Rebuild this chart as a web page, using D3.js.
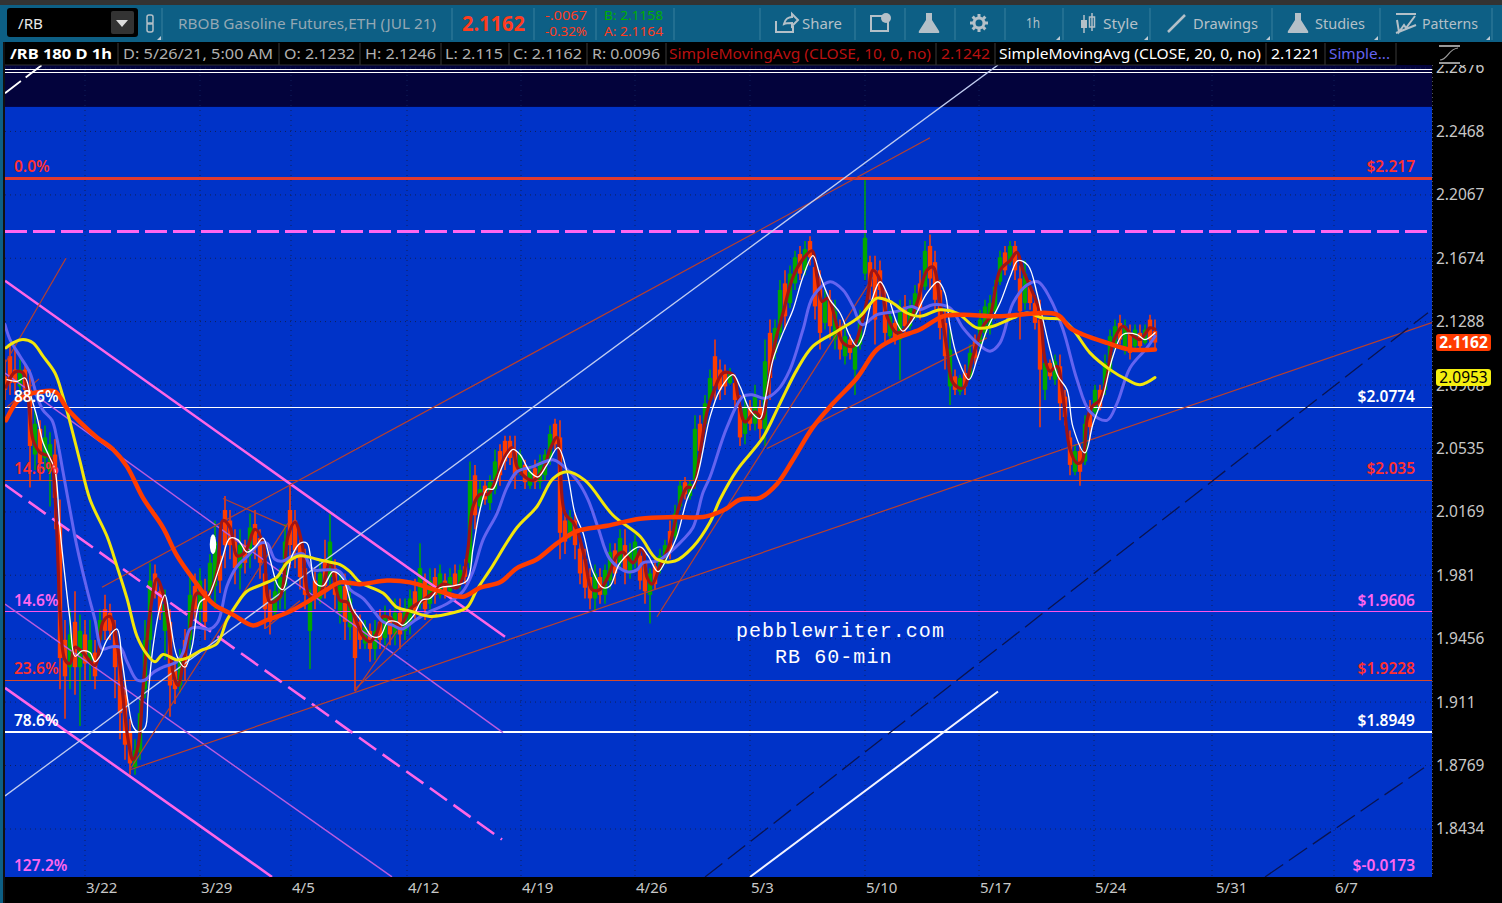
<!DOCTYPE html>
<html><head><meta charset="utf-8">
<script src="https://cdn.jsdelivr.net/npm/d3@7"></script>
<style>
html,body{margin:0;padding:0;background:#000;overflow:hidden}
svg{display:block}
text{font-family:"Noto Sans",sans-serif}
</style></head><body>
<script>
// ---------- axis values ----------
const priceTicks=[2.2876,2.2468,2.2067,2.1674,2.1288,2.0908,2.0535,2.0169,1.981,1.9456,1.911,1.8769,1.8434];
const dateLabels=["3/22","3/29","4/5","4/12","4/19","4/26","5/3","5/10","5/17","5/24","5/31","6/7"];
const dateBars=[85,200,291,407,521,635,750,865,979,1094,1212,1334];
// ---------- hourly price bars (sampled), rows of open, high, low, close ----------
const ohlcMarch=[
[2.096,2.106,2.082,2.088],[2.108,2.115,2.085,2.092],[2.100,2.112,2.085,2.092],[2.090,2.106,2.085,2.100],[2.100,2.104,2.082,2.088],[2.088,2.100,2.031,2.055],[2.050,2.076,2.041,2.068],[2.065,2.070,2.035,2.045],[2.048,2.067,2.041,2.060],[2.040,2.063,2.020,2.056],[2.050,2.059,2.007,2.025],[2.010,2.024,1.918,1.935],[1.945,1.956,1.902,1.925],[1.930,1.962,1.918,1.948],[1.955,1.972,1.915,1.930],[1.930,1.959,1.898,1.950],[1.948,1.956,1.923,1.932],[1.932,1.956,1.923,1.945],[1.938,1.945,1.918,1.925],[1.945,1.962,1.940,1.956],[1.962,1.970,1.945,1.950],[1.960,1.965,1.945,1.950],[1.950,1.956,1.913,1.930],[1.935,1.940,1.891,1.905],[1.915,1.923,1.880,1.888],[1.895,1.902,1.872,1.878],[1.876,1.891,1.872,1.885],[1.884,1.913,1.880,1.905],[1.918,1.956,1.913,1.945],[1.945,1.988,1.934,1.978],[1.982,1.987,1.968,1.972],[1.972,1.975,1.956,1.960],[1.950,1.973,1.934,1.965],[1.955,1.962,1.903,1.920],[1.928,1.934,1.910,1.918],[1.920,1.940,1.916,1.935],[1.945,1.951,1.923,1.930],[1.945,1.982,1.940,1.970],[1.975,1.982,1.956,1.962],[1.962,1.985,1.954,1.978],[1.972,1.979,1.945,1.955],[1.972,1.993,1.968,1.988],[1.975,2.012,1.962,2.000],[1.992,1.996,1.971,1.978],[2.018,2.026,1.985,1.998],[2.012,2.018,1.990,1.998],[2.000,2.007,1.976,1.985],[1.985,2.007,1.973,1.998],[1.998,2.001,1.982,1.988],[1.992,2.016,1.985,2.008],[2.010,2.018,1.990,1.998],[2.002,2.007,1.979,1.988],[1.982,1.987,1.951,1.962],[1.968,1.973,1.948,1.955],[1.960,1.979,1.956,1.972],[1.968,1.985,1.962,1.980],[1.975,2.010,1.962,2.000],[2.018,2.033,1.985,1.998],[2.012,2.018,1.985,1.995]];
const ohlcApril=[
[1.998,2.001,1.973,1.980],[1.985,1.996,1.962,1.970],[1.950,1.973,1.929,1.968],[1.978,1.985,1.962,1.968],[1.968,1.990,1.965,1.982],[1.990,2.001,1.968,1.975],[1.980,2.016,1.973,2.000],[1.985,1.990,1.962,1.970],[1.960,1.982,1.954,1.975],[1.975,1.982,1.945,1.955],[1.952,1.979,1.945,1.968],[1.958,1.962,1.917,1.935],[1.955,1.959,1.940,1.945],[1.943,1.956,1.940,1.952],[1.950,1.954,1.933,1.940],[1.940,1.956,1.934,1.950],[1.955,1.962,1.940,1.945],[1.946,1.964,1.942,1.958],[1.958,1.962,1.942,1.948],[1.948,1.968,1.942,1.960],[1.960,1.968,1.940,1.948],[1.950,1.968,1.945,1.962],[1.955,1.973,1.948,1.968],[1.972,1.979,1.956,1.960],[1.965,1.999,1.962,1.985],[1.978,1.982,1.956,1.962],[1.965,1.985,1.962,1.978],[1.980,1.985,1.965,1.970],[1.970,1.987,1.968,1.982],[1.978,1.982,1.968,1.972],[1.972,1.985,1.968,1.980],[1.982,1.987,1.973,1.975],[1.976,1.987,1.973,1.984],[1.986,1.990,1.976,1.980],[1.988,2.046,1.985,2.035],[2.038,2.044,2.007,2.015],[2.020,2.035,2.018,2.030],[2.032,2.035,2.021,2.024],[2.022,2.038,2.018,2.034],[2.030,2.053,2.027,2.046],[2.052,2.056,2.032,2.038],[2.058,2.061,2.041,2.046],[2.058,2.061,2.044,2.048],[2.052,2.061,2.030,2.038],[2.040,2.053,2.038,2.050],[2.044,2.047,2.030,2.034],[2.032,2.044,2.030,2.040],[2.042,2.047,2.030,2.034],[2.034,2.050,2.030,2.046],[2.038,2.053,2.035,2.050],[2.048,2.067,2.044,2.062],[2.068,2.071,2.053,2.056],[2.060,2.070,1.990,2.005],[2.012,2.018,1.993,2.000],[2.003,2.018,2.001,2.014],[2.012,2.016,1.990,1.998],[1.996,2.001,1.976,1.982],[1.990,1.996,1.968,1.974],[1.980,1.985,1.962,1.968],[1.968,1.987,1.961,1.982],[1.980,1.985,1.965,1.970],[1.970,1.987,1.965,1.984],[1.978,1.999,1.973,1.994],[1.995,1.999,1.976,1.982],[1.988,2.007,1.985,2.002],[1.998,2.007,1.976,1.984],[1.982,1.999,1.979,1.994],[1.988,2.004,1.985,2.000],[1.992,1.996,1.973,1.978],[1.988,1.993,1.965,1.972],[1.970,1.985,1.954,1.982],[1.986,1.990,1.973,1.976],[1.984,1.996,1.982,1.992],[1.988,2.001,1.987,1.998],[2.006,2.012,1.990,1.994],[2.003,2.021,2.001,2.016],[2.020,2.035,2.018,2.032],[2.034,2.037,2.024,2.027],[2.026,2.035,2.024,2.033]];
const ohlcMay=[
[2.035,2.073,2.030,2.065],[2.068,2.073,2.047,2.052],[2.068,2.085,2.065,2.080],[2.082,2.100,2.079,2.095],[2.108,2.118,2.082,2.090],[2.100,2.106,2.082,2.088],[2.098,2.103,2.085,2.090],[2.092,2.101,2.091,2.098],[2.092,2.097,2.076,2.082],[2.078,2.085,2.055,2.060],[2.062,2.085,2.056,2.078],[2.078,2.082,2.064,2.068],[2.068,2.091,2.064,2.084],[2.078,2.082,2.059,2.065],[2.065,2.118,2.055,2.105],[2.122,2.130,2.082,2.095],[2.110,2.130,2.106,2.125],[2.122,2.154,2.118,2.148],[2.152,2.160,2.124,2.132],[2.140,2.163,2.137,2.158],[2.152,2.172,2.148,2.168],[2.170,2.175,2.154,2.158],[2.160,2.178,2.157,2.173],[2.178,2.181,2.163,2.168],[2.162,2.169,2.130,2.138],[2.150,2.160,2.112,2.122],[2.128,2.148,2.124,2.142],[2.142,2.148,2.118,2.126],[2.118,2.142,2.112,2.135],[2.126,2.130,2.106,2.112],[2.108,2.124,2.103,2.120],[2.118,2.121,2.106,2.110],[2.100,2.118,2.085,2.115],[2.115,2.136,2.112,2.130],[2.158,2.216,2.154,2.180],[2.165,2.169,2.142,2.150],[2.160,2.169,2.115,2.130],[2.160,2.166,2.142,2.148],[2.142,2.148,2.115,2.122],[2.120,2.136,2.118,2.132],[2.128,2.130,2.115,2.118],[2.118,2.142,2.094,2.136],[2.138,2.145,2.121,2.126],[2.126,2.142,2.124,2.138],[2.134,2.151,2.130,2.146],[2.152,2.160,2.130,2.136],[2.150,2.178,2.148,2.172],[2.175,2.182,2.148,2.155],[2.165,2.172,2.136,2.142],[2.148,2.154,2.118,2.125],[2.128,2.136,2.100,2.108],[2.090,2.124,2.079,2.112],[2.096,2.100,2.085,2.088],[2.087,2.097,2.085,2.095],[2.098,2.103,2.085,2.090],[2.096,2.115,2.094,2.110],[2.118,2.121,2.103,2.107],[2.115,2.136,2.112,2.130],[2.122,2.142,2.118,2.138],[2.125,2.145,2.121,2.140],[2.135,2.154,2.130,2.150],[2.153,2.172,2.151,2.168],[2.171,2.175,2.157,2.160],[2.165,2.178,2.163,2.175],[2.175,2.178,2.154,2.160],[2.155,2.163,2.118,2.135],[2.140,2.166,2.136,2.158],[2.150,2.154,2.136,2.140],[2.140,2.145,2.124,2.128],[2.130,2.142,2.066,2.100],[2.088,2.109,2.082,2.104],[2.104,2.106,2.094,2.096],[2.094,2.109,2.091,2.105],[2.102,2.109,2.070,2.080],[2.084,2.088,2.067,2.072],[2.060,2.064,2.038,2.044],[2.040,2.056,2.038,2.052],[2.052,2.056,2.032,2.040],[2.046,2.073,2.044,2.068],[2.078,2.082,2.059,2.066],[2.075,2.091,2.073,2.088],[2.088,2.091,2.076,2.078],[2.088,2.109,2.085,2.104],[2.100,2.124,2.097,2.120],[2.114,2.130,2.112,2.126],[2.128,2.133,2.115,2.118],[2.112,2.130,2.109,2.126],[2.122,2.127,2.106,2.110],[2.114,2.127,2.112,2.124],[2.122,2.127,2.112,2.114],[2.116,2.127,2.115,2.124],[2.130,2.133,2.115,2.118],[2.1232,2.130,2.112,2.1162]];
// ---------- moving averages: bar numbers and values ----------
const sma10Bars=[6,15,23,28,33,40,50,55,58,60,65,70,75,83,95,103,110,117,123,128,133,138,143,150,157,163,168,173,178,183,190,197,207,217,223,230,237,245,255,263,270,280,288,295,302,310,320,330,340,347,353,363,370,377,383,390,400,410,420,433,443,457,463,468,473,480,488,497,505,512,517,523,533,543,550,557,560,565,573,578,585,592,600,607,617,623,633,642,647,652,660,670,678,687,693,700,707,713,723,733,738,745,755,762,768,775,783,793,803,812,817,822,828,837,843,853,860,867,873,880,887,897,907,917,927,933,940,947,953,963,973,983,990,1000,1010,1017,1023,1033,1040,1045,1050,1057,1063,1070,1077,1082,1087,1092,1100,1107,1113,1123,1130,1140,1150,1155];
const sma10Vals=[2.0896,2.0986,2.098,2.0838,2.0587,2.0512,2.0483,2.0256,1.988,1.960,1.934,1.932,1.941,1.938,1.931,1.955,1.958,1.943,1.914,1.891,1.880,1.887,1.918,1.960,1.979,1.971,1.955,1.927,1.920,1.932,1.951,1.971,1.969,1.983,2.012,2.008,1.992,1.994,2.007,1.999,1.966,1.969,2.003,2.011,1.999,1.969,1.971,1.988,1.967,1.966,1.960,1.947,1.944,1.949,1.958,1.957,1.953,1.962,1.966,1.971,1.976,1.974,1.980,1.996,2.020,2.027,2.027,2.037,2.049,2.054,2.043,2.038,2.035,2.041,2.053,2.060,2.043,2.016,2.011,2.005,1.990,1.973,1.973,1.979,1.992,1.994,1.988,1.996,1.980,1.976,1.986,1.999,2.018,2.031,2.031,2.051,2.075,2.086,2.098,2.097,2.084,2.069,2.075,2.071,2.090,2.116,2.134,2.156,2.167,2.172,2.156,2.141,2.143,2.126,2.116,2.114,2.124,2.142,2.160,2.154,2.132,2.122,2.126,2.140,2.160,2.162,2.140,2.112,2.092,2.089,2.108,2.126,2.132,2.160,2.166,2.171,2.160,2.146,2.134,2.106,2.099,2.102,2.084,2.053,2.045,2.046,2.070,2.078,2.082,2.096,2.116,2.126,2.122,2.118,2.125,2.1242];
const sma20Bars=[7,17,25,30,37,43,50,55,60,65,70,75,82,90,95,100,107,117,122,128,133,138,145,148,153,160,165,170,177,185,192,200,208,213,222,230,238,247,255,263,270,278,283,292,300,307,315,323,333,343,353,362,372,380,388,397,403,413,422,430,440,453,467,473,480,487,493,500,507,513,520,530,538,547,558,567,575,583,593,603,610,620,640,648,658,668,677,687,697,710,720,733,740,750,760,765,773,783,793,803,813,820,830,840,850,857,863,872,880,887,897,903,913,927,938,945,950,957,969,977,987,1000,1010,1018,1028,1037,1043,1050,1058,1067,1073,1085,1093,1103,1113,1123,1137,1145,1155];
const sma20Vals=[2.094,2.093,2.095,2.086,2.072,2.057,2.048,2.041,2.007,1.980,1.956,1.936,1.939,1.938,1.933,1.936,1.945,1.951,1.934,1.911,1.898,1.895,1.897,1.914,1.941,1.963,1.970,1.956,1.936,1.930,1.941,1.966,1.969,1.975,1.990,2.002,2.001,1.994,1.997,2.002,1.990,1.975,1.973,1.992,1.999,1.999,1.977,1.975,1.983,1.979,1.962,1.955,1.947,1.947,1.955,1.955,1.953,1.958,1.967,1.968,1.974,1.975,1.978,1.996,2.018,2.030,2.030,2.040,2.049,2.053,2.050,2.040,2.037,2.044,2.054,2.040,2.016,2.005,1.983,1.974,1.975,1.988,1.997,1.992,1.983,1.992,2.003,2.024,2.037,2.072,2.088,2.097,2.090,2.076,2.071,2.082,2.106,2.122,2.136,2.156,2.169,2.157,2.142,2.134,2.120,2.114,2.120,2.142,2.153,2.146,2.128,2.123,2.130,2.146,2.153,2.146,2.126,2.108,2.094,2.106,2.124,2.140,2.156,2.166,2.163,2.146,2.130,2.112,2.096,2.088,2.066,2.051,2.068,2.084,2.108,2.121,2.121,2.118,2.1221];
const sma50Bars=[5,10,20,30,37,43,52,57,63,70,77,87,95,102,110,120,127,137,145,153,163,177,183,190,197,210,218,227,237,248,260,267,275,283,293,303,313,323,340,350,363,375,383,393,402,413,427,447,463,473,483,497,507,517,533,553,562,577,588,598,610,627,637,643,657,668,683,693,703,710,727,743,753,765,778,790,803,813,830,843,853,862,877,897,912,920,933,950,963,977,990,1000,1013,1027,1038,1050,1063,1077,1090,1107,1117,1130,1147,1155];
const sma50Vals=[2.127,2.118,2.108,2.098,2.084,2.076,2.070,2.059,2.040,2.018,1.997,1.973,1.956,1.940,1.941,1.941,1.933,1.923,1.923,1.927,1.930,1.933,1.938,1.951,1.952,1.951,1.955,1.975,1.986,1.992,1.999,1.999,1.990,1.989,1.992,1.993,1.984,1.984,1.983,1.973,1.968,1.960,1.955,1.953,1.951,1.955,1.960,1.965,1.972,1.983,2.001,2.016,2.031,2.040,2.043,2.047,2.044,2.035,2.024,2.008,1.990,1.983,1.984,1.988,1.989,1.993,2.001,2.008,2.028,2.037,2.066,2.084,2.085,2.083,2.088,2.100,2.124,2.144,2.153,2.148,2.138,2.127,2.133,2.135,2.138,2.136,2.139,2.137,2.125,2.116,2.111,2.116,2.140,2.151,2.153,2.143,2.124,2.094,2.075,2.070,2.080,2.101,2.113,2.120];
const sma100Bars=[6,13,23,33,43,55,62,70,80,90,107,117,127,137,147,155,163,177,187,200,217,227,237,247,263,277,287,300,317,333,340,350,360,383,397,410,430,453,467,477,490,517,537,553,567,585,613,640,657,675,693,710,720,737,763,780,797,813,837,860,877,890,907,920,940,957,977,993,1013,1027,1043,1062,1073,1090,1110,1127,1140,1155];
const sma100Vals=[2.113,2.116,2.118,2.116,2.108,2.098,2.086,2.069,2.046,2.024,2.003,1.986,1.968,1.947,1.937,1.933,1.937,1.934,1.935,1.939,1.943,1.956,1.965,1.972,1.976,1.980,1.988,1.992,1.990,1.988,1.987,1.983,1.977,1.971,1.963,1.961,1.958,1.960,1.963,1.973,1.984,2.008,2.020,2.036,2.040,2.035,2.015,2.003,1.990,1.989,1.997,2.011,2.024,2.041,2.060,2.080,2.100,2.114,2.123,2.132,2.143,2.141,2.134,2.132,2.136,2.134,2.125,2.126,2.131,2.134,2.131,2.130,2.124,2.110,2.100,2.094,2.091,2.0953];
const sma200Bars=[6,17,27,43,55,67,80,97,113,127,143,163,177,193,213,233,253,267,287,310,327,340,360,387,410,440,463,480,500,517,537,557,577,607,640,673,703,720,727,740,760,777,793,813,833,857,877,897,920,943,963,997,1057,1070,1083,1107,1130,1155];
const sma200Vals=[2.070,2.081,2.085,2.087,2.087,2.077,2.069,2.060,2.053,2.043,2.025,2.008,1.992,1.979,1.965,1.959,1.953,1.956,1.960,1.967,1.973,1.977,1.976,1.978,1.977,1.972,1.969,1.974,1.977,1.985,1.990,1.999,2.006,2.009,2.013,2.014,2.014,2.017,2.019,2.024,2.025,2.033,2.047,2.066,2.080,2.095,2.112,2.119,2.124,2.132,2.133,2.132,2.133,2.125,2.121,2.116,2.112,2.112];
// ---------- horizontal levels ----------
const fibPrices=[2.217,2.0774,2.035,1.9606,1.9228,1.8949];
const fibLeftLabels=["0.0%","88.6%","14.6%","14.6%","23.6%","78.6%"];
const fibRightLabels=["$2.217","$2.0774","$2.035","$1.9606","$1.9228","$1.8949"];
const extraLeftLabel="127.2%";
const extraRightLabel="$-0.0173";
const extraLabelPrice=1.8252;
const resistancePrice=2.1842;
const doubleTopPrices=[2.2866,2.2848];
const darkZoneFloor=2.2625;
// ---------- trend lines: bar, price, bar, price ----------
const redTrends=[[102,1.9743,930,2.2428],[131,1.8748,1432,2.1282],[6,2.1047,66,2.1674],[7,2.0778,39,2.0945],[130,1.8748,288,2.0105],[223,2.0246,287,2.0085],[266,1.9516,300,1.9667],[355,1.9167,397,1.950],[355,1.918,437,1.9595],[657,1.9578,873,2.1558],[767,2.0535,987,2.119]];
const whiteTrend=[[5,1.8608,998,2.2896]];
const magentaThick=[[5,2.1536,505,1.9467],[5,1.9187,272,1.8185]];
const magentaThin=[[5,2.0979,503,1.8945],[5,1.9648,392,1.8185]];
const magentaDashed=[[5,2.0325,502,1.8379]];
const navyDashed=[[705,1.8185,1428,2.1342],[1265,1.8185,1424,1.8757]];
const whiteSolid=[[750,1.8185,998,1.9167]];
const whiteDashed=[[5,2.2713,42,2.2896]];
const blobPoint=[213,1.9985];
// ---------- header texts ----------
const symbolText="/RB";
const instrumentName="RBOB Gasoline Futures,ETH (JUL 21)";
const lastPrice="2.1162";
const netChange=["-.0067","-0.32%"];
const bidAsk=["B: 2.1158","A: 2.1164"];
const toolLabels=["Share","1h","Style","Drawings","Studies","Patterns"];
const legendTexts=["/RB 180 D 1h","D: 5/26/21, 5:00 AM","O: 2.1232","H: 2.1246","L: 2.115","C: 2.1162","R: 0.0096","SimpleMovingAvg (CLOSE, 10, 0, no)","2.1242","SimpleMovingAvg (CLOSE, 20, 0, no)","2.1221","Simple..."];
const tagLast=2.1162, tagYellow=2.0953;
const watermark=["pebblewriter.com","RB 60-min"];

// ---------- layout ----------
const W=1502,H=903;
const plot={l:5,r:1432,t:65,b:877};
const x=d3.scaleLinear().domain([5,1432]).range([5,1432]);
const y=d3.scaleLog().domain([1.8434,2.2876]).range([829,68]);
const svg=d3.select("body").append("svg").attr("width",W).attr("height",H);
svg.append("rect").attr("width",W).attr("height",H).attr("fill","#000");
const defs=svg.append("defs");
defs.append("clipPath").attr("id","plotclip").append("rect").attr("x",plot.l).attr("y",plot.t).attr("width",plot.r-plot.l).attr("height",plot.b-plot.t);

// plot background
svg.append("rect").attr("x",plot.l).attr("y",plot.t).attr("width",plot.r-plot.l).attr("height",plot.b-plot.t).attr("fill","#0033c8");
svg.append("rect").attr("x",plot.l).attr("y",plot.t).attr("width",plot.r-plot.l).attr("height",y(darkZoneFloor)-plot.t).attr("fill","#03033c");
const g=svg.append("g").attr("clip-path","url(#plotclip)");

// dotted grid
g.selectAll(".gy").data(priceTicks).join("line").attr("x1",plot.l).attr("x2",plot.r).attr("y1",d=>y(d)).attr("y2",d=>y(d)).attr("stroke","#10205a").attr("stroke-width",1).attr("stroke-dasharray","1 4");
g.selectAll(".gx").data(dateBars).join("line").attr("x1",d=>x(d)).attr("x2",d=>x(d)).attr("y1",plot.t).attr("y2",plot.b).attr("stroke","#10205a").attr("stroke-width",1).attr("stroke-dasharray","1 4");

// candles
const upCol="#00a800",downCol="#ff3c00";
const ohlc=ohlcMarch.concat(ohlcApril,ohlcMay);
const barPos=i=>x(5+5*i);
const cg=g.append("g");
cg.selectAll(".w").data(ohlc).join("line").attr("x1",(d,i)=>barPos(i)).attr("x2",(d,i)=>barPos(i)).attr("y1",d=>y(d[1])).attr("y2",d=>y(d[2])).attr("stroke",d=>d[3]>=d[0]?upCol:downCol).attr("stroke-width",1.5);
cg.selectAll(".b").data(ohlc).join("rect").attr("x",(d,i)=>barPos(i)-2.2).attr("width",4.4).attr("y",d=>y(Math.max(d[0],d[3]))).attr("height",d=>Math.abs(y(d[0])-y(d[3]))).attr("fill",d=>d[3]>=d[0]?upCol:downCol);

// levels
const levelStroke=["#e03a30","#ffffff","#d84a28","#ff55e6","#d84a28","#ffffff"];
const levelWidth=[3,1,1,1,1,2];
const levelText=["#ff3030","#ffffff","#ff3030","#ff66ee","#ff3030","#ffffff"];
g.selectAll(".lv").data(fibPrices).join("line").attr("x1",plot.l).attr("x2",plot.r).attr("y1",d=>y(d)).attr("y2",d=>y(d)).attr("stroke",(d,i)=>levelStroke[i]).attr("stroke-width",(d,i)=>levelWidth[i]).attr("shape-rendering","crispEdges");
g.append("line").attr("x1",plot.l).attr("x2",plot.r).attr("y1",y(resistancePrice)).attr("y2",y(resistancePrice)).attr("stroke","#ff66f0").attr("stroke-width",3).attr("stroke-dasharray","22 6").attr("shape-rendering","crispEdges");
g.selectAll(".dt").data(doubleTopPrices).join("line").attr("x1",plot.l).attr("x2",plot.r).attr("y1",d=>y(d)).attr("y2",d=>y(d)).attr("stroke","#fff").attr("stroke-width",1).attr("shape-rendering","crispEdges");

// trend lines
function trends(data,color,width,dash){
  g.append("g").selectAll("line").data(data).join("line")
   .attr("x1",d=>x(d[0])).attr("y1",d=>y(d[1])).attr("x2",d=>x(d[2])).attr("y2",d=>y(d[3]))
   .attr("stroke",color).attr("stroke-width",width).attr("stroke-dasharray",dash||null);
}
trends(magentaThin,"#b85ce0",1.4);
trends(magentaThick,"#ff66e6",2.6);
trends(magentaDashed,"#ff66e6",2.6,"21 8");
trends(redTrends,"#b8402c",1.2);
trends(whiteTrend,"#c0ccf0",1.3);
trends(navyDashed,"#0a1450",1.3,"22 7");
trends(whiteSolid,"#f4f4ff",2);
trends(whiteDashed,"#ffffff",1.8,"20 6");
g.append("ellipse").attr("cx",x(blobPoint[0])).attr("cy",y(blobPoint[1])).attr("rx",3.2).attr("ry",10).attr("fill","#fff");

// moving averages
const curve=d3.curveCatmullRom.alpha(0.5);
function ma(bars,vals,color,width){
  const ln=d3.line().x(i=>x(bars[i])).y(i=>y(vals[i])).curve(curve);
  g.append("path").attr("d",ln(d3.range(bars.length))).attr("fill","none").attr("stroke",color).attr("stroke-width",width).attr("stroke-linejoin","round").attr("stroke-linecap","round");
}
ma(sma10Bars,sma10Vals,"#a01414",3.2);
ma(sma50Bars,sma50Vals,"#6464f0",3);
ma(sma20Bars,sma20Vals,"#ffffff",1.3);
ma(sma100Bars,sma100Vals,"#f2e60a",3);
ma(sma200Bars,sma200Vals,"#ff3c00",4.5);

// level labels
const lblSize=15.5;
svg.append("g").selectAll("text").data(fibLeftLabels).join("text").attr("x",14).attr("y",(d,i)=>y(fibPrices[i])-(i==0?7:6)).text(d=>d).attr("font-size",lblSize).attr("font-weight",600).attr("fill",(d,i)=>levelText[i]);
svg.append("g").selectAll("text").data(fibRightLabels).join("text").attr("x",1415).attr("text-anchor","end").attr("y",(d,i)=>y(fibPrices[i])-(i==0?7:6)).text(d=>d).attr("font-size",lblSize).attr("font-weight",600).attr("fill",(d,i)=>levelText[i]);
svg.append("text").attr("x",14).attr("y",y(extraLabelPrice)+7).text(extraLeftLabel).attr("font-size",lblSize).attr("font-weight",600).attr("fill","#ff66ee");
svg.append("text").attr("x",1415).attr("text-anchor","end").attr("y",y(extraLabelPrice)+7).text(extraRightLabel).attr("font-size",lblSize).attr("font-weight",600).attr("fill","#ff66ee");

// watermark
const watermarkStart=[736,775];
svg.append("g").selectAll("text").data(watermark).join("text").attr("x",(d,i)=>watermarkStart[i]).attr("y",(d,i)=>637+i*26).text(d=>d).style("font-family","'Liberation Mono',monospace").attr("font-size",20).attr("letter-spacing",1.06).attr("fill","#fff");

// right axis
const yAxis=d3.axisRight(y).tickValues(priceTicks).tickFormat(d3.format(".4~f")).tickSize(0).tickPadding(4);
const ax=svg.append("g").attr("transform",`translate(${plot.r},0)`).call(yAxis);
ax.select(".domain").remove();
ax.selectAll("text").attr("font-size",15.5).attr("fill","#c8c8c8").style("font-family","'Noto Sans',sans-serif");
svg.append("line").attr("x1",plot.r+.5).attr("x2",plot.r+.5).attr("y1",plot.t).attr("y2",plot.b).attr("stroke","#555").attr("stroke-dasharray","1 3");

// bottom axis
const dateLabelNudge=[1,1,1,1,1,1,1,1,1,1,4,1];
svg.append("g").selectAll("text").data(dateLabels).join("text").attr("x",(d,i)=>x(dateBars[i])+dateLabelNudge[i]).attr("y",893).text(d=>d).attr("font-size",15).attr("fill","#c8c8c8");

// price tags
function tag(price,bg,fg,bold){
  const yy=y(price);
  svg.append("rect").attr("x",1436).attr("y",yy-8.5).attr("width",55).attr("height",17).attr("rx",3).attr("fill",bg);
  svg.append("text").attr("x",1463.5).attr("y",yy+5.5).attr("text-anchor","middle").text(d3.format(".4f")(price)).attr("font-size",15.5).attr("font-weight",bold?700:400).attr("fill",fg);
}
tag(tagYellow,"#f4ee10","#000",false);
tag(tagLast,"#ff3c00","#fff",true);

// ---------- chrome ----------
const bar=svg.append("g");
bar.append("rect").attr("width",W).attr("height",5).attr("fill","#333");
bar.append("rect").attr("y",5).attr("width",W).attr("height",37).attr("fill","#0d5f85");
bar.append("rect").attr("y",42).attr("width",W).attr("height",23).attr("fill","#000");
bar.append("rect").attr("y",42).attr("width",3).attr("height",H-42).attr("fill","#0d5f85");
bar.append("rect").attr("x",3).attr("y",42).attr("width",2).attr("height",H-42).attr("fill","#111");
bar.append("rect").attr("x",1432).attr("y",42).attr("width",70).attr("height",20).attr("fill","#000");
// symbol box
bar.append("rect").attr("x",7).attr("y",8).attr("width",131).attr("height",29).attr("rx",3).attr("fill","#000");
bar.append("rect").attr("x",111).attr("y",11).attr("width",23).attr("height",23).attr("rx",2).attr("fill","#333");
bar.append("path").attr("d","M116,20h12l-6,7z").attr("fill","#ddd");
function ttext(s,a,b,yy,col,size,weight){
  const t=bar.append("text").attr("x",a).attr("y",yy).text(s).attr("fill",col).attr("font-size",size).attr("font-weight",weight||400);
  if(b) t.attr("textLength",b-a).attr("lengthAdjust","spacingAndGlyphs");
  return t;
}
ttext(symbolText,18,43,29,"#e8e8e8",14);
ttext(instrumentName,178,436,29,"#94a8b4",14.5);
ttext(lastPrice,462,525,31,"#ff3c1e",21,700);
ttext(netChange[0],545,587,20,"#ff3c1e",13);
ttext(netChange[1],545,587,36,"#ff3c1e",13);
ttext(bidAsk[0],604,663,20,"#00b000",13);
ttext(bidAsk[1],604,663,36,"#ff3c1e",13);
ttext(toolLabels[0],802,842,29,"#b4c0c8",14.5);
ttext(toolLabels[1],1026,1040,28,"#b4c0c8",14);
ttext(toolLabels[2],1103,1138,29,"#b4c0c8",14.5);
ttext(toolLabels[3],1193,1258,29,"#b4c0c8",14.5);
ttext(toolLabels[4],1315,1365,29,"#b4c0c8",14.5);
ttext(toolLabels[5],1422,1478,29,"#b4c0c8",14.5);
[162,452,534,596,674,760,855,905,955,1005,1063,1150,1272,1380,1492].forEach(v=>bar.append("line").attr("x1",v).attr("x2",v).attr("y1",8).attr("y2",40).attr("stroke","#2a7496").attr("stroke-width",1.5));
[1060,1148,1270,1378,1490].forEach(v=>bar.append("path").attr("d",`M${v-4},40l4,-4v4z`).attr("fill","#c0ccd4"));
bar.append("path").attr("d","M157,40l4,-4v4z").attr("fill","#c0ccd4");
const ic="#b4c0c8";
// link icon
bar.append("rect").attr("x",147).attr("y",15).attr("width",6).attr("height",9).attr("rx",2).attr("fill","none").attr("stroke",ic).attr("stroke-width",1.5);
bar.append("rect").attr("x",147).attr("y",23).attr("width",6).attr("height",9).attr("rx",2).attr("fill","none").attr("stroke",ic).attr("stroke-width",1.5);
// share
bar.append("path").attr("d","M776,21v11h17v-6M784,24c1,-5 5,-7 8,-7v-3l6,6l-6,6v-3c-3,0,-6,0,-8,1z").attr("fill","none").attr("stroke",ic).attr("stroke-width",2);
// info
bar.append("path").attr("d","M888,18v13h-17v-15h11").attr("fill","none").attr("stroke",ic).attr("stroke-width",2);
bar.append("circle").attr("cx",886).attr("cy",18).attr("r",5).attr("fill",ic);
// flasks
[[929,13],[1298,13]].forEach(p=>bar.append("path").attr("d",`M${p[0]-3},${p[1]}h6v7l7,11q1,2,-1,2h-18q-2,0,-1,-2l7,-11z`).attr("fill",ic));
// gear
bar.append("circle").attr("cx",979).attr("cy",23).attr("r",5).attr("fill","none").attr("stroke",ic).attr("stroke-width",3);
d3.range(0,360,45).forEach(a=>bar.append("rect").attr("x",977.5).attr("y",14).attr("width",3).attr("height",4).attr("fill",ic).attr("transform",`rotate(${a} 979 23)`));
// style
bar.append("path").attr("d","M1084,15v18M1092,13v18").attr("stroke",ic).attr("stroke-width",1.5);
bar.append("rect").attr("x",1081).attr("y",20).attr("width",6).attr("height",8).attr("fill",ic);
bar.append("rect").attr("x",1089.5).attr("y",17).attr("width",5).attr("height",10).attr("fill","none").attr("stroke",ic).attr("stroke-width",1.5);
// drawings
bar.append("line").attr("x1",1168).attr("y1",32).attr("x2",1185).attr("y2",15).attr("stroke",ic).attr("stroke-width",2.5);
// patterns
bar.append("path").attr("d","M1396,14h20M1397,20l2,12l5,-7l2,3l9,-12M1396,33l20,-8").attr("fill","none").attr("stroke",ic).attr("stroke-width",2);

// legend strip
const legendCells=[[10,112],[123,273],[284,355],[365,436],[445,503],[513,582],[592,660],[669,931],[941,990],[999,1261],[1271,1320],[1329,1390]];
const legendColors=["#fff","#b0b0b0","#b0b0b0","#b0b0b0","#b0b0b0","#b0b0b0","#b0b0b0","#b81010","#b81010","#fff","#fff","#6464f0"];
legendTexts.forEach((s,i)=>ttext(s,legendCells[i][0],legendCells[i][1],59,legendColors[i],14,i==0?700:400));
[118,279,360,441,509,587,666,936,995,1266,1325,1396].forEach(v=>bar.append("line").attr("x1",v).attr("x2",v).attr("y1",43).attr("y2",65).attr("stroke","#3a3a3a"));
bar.append("line").attr("x1",5).attr("x2",1396).attr("y1",65).attr("y2",65).attr("stroke","#333");
// study icon
bar.append("path").attr("d","M1439,46h21M1439,63h21").attr("stroke","#999").attr("stroke-width",2);
bar.append("path").attr("d","M1440,60c8,0,8,-11,18,-12").attr("fill","none").attr("stroke","#999").attr("stroke-width",1.2);
</script>
</body></html>
